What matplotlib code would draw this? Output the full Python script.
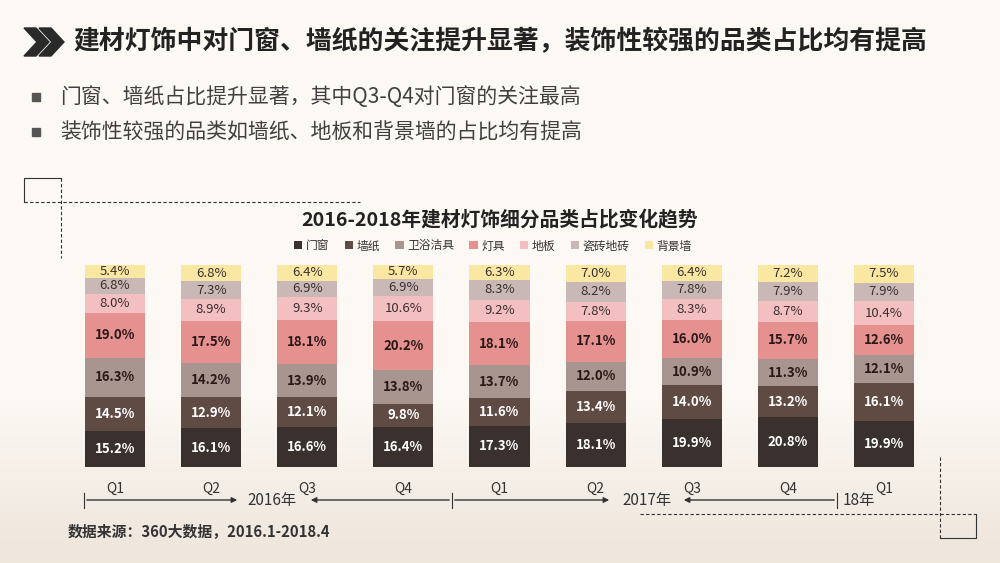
import numpy as np
import matplotlib
matplotlib.use("Agg")
import matplotlib.pyplot as plt
from matplotlib.patches import Polygon, Rectangle

plt.rcParams['font.family'] = ['Noto Sans CJK SC', 'DejaVu Sans']

# ---- data ----
quarters = ['Q1', 'Q2', 'Q3', 'Q4', 'Q1', 'Q2', 'Q3', 'Q4', 'Q1']
categories = ['门窗', '墙纸', '卫浴洁具', '灯具', '地板', '瓷砖地砖', '背景墙']
men_chuang = [15.2, 16.1, 16.6, 16.4, 17.3, 18.1, 19.9, 20.8, 19.9]
qiang_zhi = [14.5, 12.9, 12.1, 9.8, 11.6, 13.4, 14.0, 13.2, 16.1]
wei_yu = [16.3, 14.2, 13.9, 13.8, 13.7, 12.0, 10.9, 11.3, 12.1]
deng_ju = [19.0, 17.5, 18.1, 20.2, 18.1, 17.1, 16.0, 15.7, 12.6]
di_ban = [8.0, 8.9, 9.3, 10.6, 9.2, 7.8, 8.3, 8.7, 10.4]
ci_zhuan = [6.8, 7.3, 6.9, 6.9, 8.3, 8.2, 7.8, 7.9, 7.9]
bei_jing = [5.4, 6.8, 6.4, 5.7, 6.3, 7.0, 6.4, 7.2, 7.5]
years = ['2016年', '2017年', '18年']

series = [men_chuang, qiang_zhi, wei_yu, deng_ju, di_ban, ci_zhuan, bei_jing]
colors = ['#3a302e', '#5f4a44', '#a8958f', '#e5918f', '#f4bfc1', '#c9b8b5', '#fae7a2']
label_colors = ['white', 'white', '#2a1818', '#2a1818', '#3a3030', '#3a3030', '#3a3030']
label_weights = ['bold', 'bold', 'bold', 'bold', 'normal', 'normal', 'normal']

W, H = 1000, 563
fig = plt.figure(figsize=(W / 100, H / 100), dpi=100)

# ---- background / decoration layer in pixel coords ----
bg = fig.add_axes([0, 0, 1, 1])
bg.set_xlim(0, W)
bg.set_ylim(H, 0)
bg.axis('off')
top_c = np.array([252, 248, 243]) / 255
bot_c = np.array([238, 229, 219]) / 255
t = np.clip((np.arange(H) - 400) / 163, 0, 1)[:, None]
grad = top_c[None, :] * (1 - t) + bot_c[None, :] * t
bg.imshow(np.repeat(grad[:, None, :], 2, axis=1), extent=[0, W, H, 0], aspect='auto', zorder=0)

# chevrons
for dx in (0, 15):
    bg.add_patch(Polygon([(24 + dx, 28), (36 + dx, 28), (49 + dx, 42), (36 + dx, 56),
                          (24 + dx, 56), (37 + dx, 42)], closed=True, color='#2a2a2a', zorder=2))
bg.text(73, 42, '建材灯饰中对门窗、墙纸的关注提升显著，装饰性较强的品类占比均有提高',
        fontsize=18.6, fontweight='bold', color='#222222', va='center', ha='left')

bullets = ['门窗、墙纸占比提升显著，其中Q3-Q4对门窗的关注最高',
           '装饰性较强的品类如墙纸、地板和背景墙的占比均有提高']
for yy, txt in zip((97, 132), bullets):
    bg.add_patch(Rectangle((32, yy - 4), 8, 8, color='#555555', zorder=2))
    bg.text(60, yy, txt, fontsize=15, color='#404040', va='center', ha='left')

# dashed frames
bg.plot([24, 24, 61], [202, 178, 178], color='#333333', lw=0.8)
bg.plot([24, 360], [202, 202], color='#333333', lw=0.8, ls=(0, (3, 2)))
bg.plot([61, 61], [178, 258], color='#333333', lw=0.8, ls=(0, (3, 2)))
bg.plot([640, 976], [514, 514], color='#333333', lw=0.8, ls=(0, (3, 2)))
bg.plot([940, 940], [457, 538], color='#333333', lw=0.8, ls=(0, (3, 2)))
bg.plot([976, 976, 940], [514, 538, 538], color='#333333', lw=0.8)

bg.text(500, 219, '2016-2018年建材灯饰细分品类占比变化趋势', fontsize=14.2,
        fontweight='bold', color='#222222', ha='center', va='center')

# timeline
ty = 500
for x in (84, 452, 837):
    bg.plot([x, x], [493, 508], color='#333333', lw=0.8)
arrow = dict(arrowstyle='-|>', color='#333333', lw=1.0, mutation_scale=8)
bg.annotate('', xy=(240, ty), xytext=(84, ty), arrowprops=arrow)
bg.annotate('', xy=(308, ty), xytext=(452, ty), arrowprops=arrow)
bg.annotate('', xy=(612, ty), xytext=(452, ty), arrowprops=arrow)
bg.annotate('', xy=(681, ty), xytext=(837, ty), arrowprops=arrow)
for x, lab in zip((247, 622, 843), years):
    bg.text(x, ty + 1, lab, fontsize=11, color='#333333', ha='left', va='center')

bg.text(68, 531, '数据来源：360大数据，2016.1-2018.4', fontsize=10.7, fontweight='bold',
        color='#333333', ha='left', va='center')

# ---- bar chart ----
ax = fig.add_axes([67 / W, (H - 467) / H, 865 / W, 202 / H])
ax.patch.set_alpha(0)
x = np.arange(len(quarters))
totals = np.sum(np.array(series), axis=0)
bottom = np.zeros(len(quarters))
for name, vals, col, lc, lw_ in zip(categories, series, colors, label_colors, label_weights):
    h = np.array(vals) / totals * 100
    ax.bar(x, h, bottom=bottom, width=60 / 96.1, color=col, label=name, edgecolor='none')
    for xi, hi, bi, v in zip(x, h, bottom, vals):
        ax.text(xi, bi + hi / 2, f'{v:.1f}%', ha='center', va='center',
                fontsize=9.5, color=lc, fontweight=lw_)
    bottom += h
ax.set_xlim(-0.5, len(quarters) - 0.5)
ax.set_ylim(0, 100)
ax.set_yticks([])
ax.set_xticks(x)
ax.set_xticklabels(quarters, fontsize=10, color='#333333')
ax.tick_params(axis='x', length=0, pad=11)
for s in ax.spines.values():
    s.set_visible(False)

fig.legend(loc='center', bbox_to_anchor=(0.493, 1 - 246 / H), ncol=7, frameon=False,
           fontsize=8.5, handlelength=0.7, handleheight=0.7, handletextpad=0.3,
           columnspacing=1.3, labelcolor='#333333')

fig.savefig('out.png', dpi=100)
